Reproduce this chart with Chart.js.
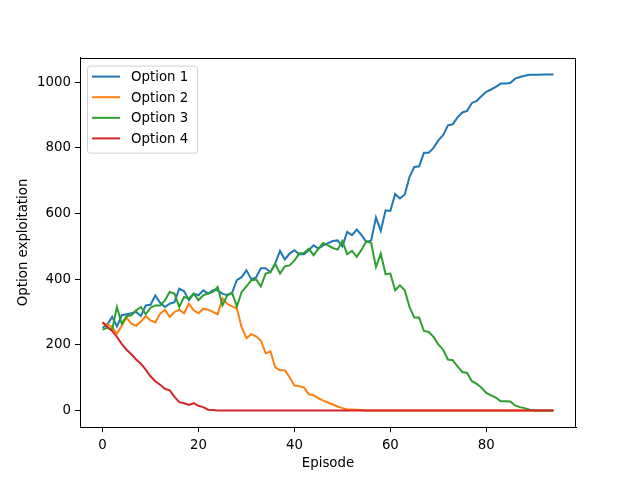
<!DOCTYPE html>
<html>
<head>
<meta charset="utf-8">
<script src="https://cdn.jsdelivr.net/npm/chart.js@4/dist/chart.umd.min.js"></script>
<style>
  html, body { margin: 0; padding: 0; background: #fff; }
  canvas { display: block; }
</style>
</head>
<body>
<canvas id="chart" width="640" height="480"></canvas>
<script>
const seriesNames = ["Option 1", "Option 2", "Option 3", "Option 4"];
const seriesColors = ["#1f77b4", "#ff7f0e", "#2ca02c", "#d62728"];

const option1 = [
  252, 262, 285, 256, 290, 293, 296, 300, 288, 320,
  322, 350, 328, 315, 325, 330, 371, 363, 336, 356,
  351, 366, 356, 366, 366, 355, 352, 358, 397, 406,
  427, 400, 405, 433, 433, 421, 448, 486, 460, 478,
  488, 476, 476, 488, 503, 493, 503, 510, 516, 518,
  500, 544, 534, 551, 534, 513, 518, 588, 547, 610,
  608, 659, 646, 658, 712, 742, 744, 785, 785, 800,
  823, 839, 869, 872, 893, 908, 913, 937, 943, 958,
  971, 978, 986, 996, 996, 998, 1011, 1016, 1020, 1023,
  1023, 1023, 1024, 1024, 1024
];
const option2 = [
  265, 262, 254, 234, 258, 283, 264, 258, 271, 287,
  274, 268, 295, 307, 285, 300, 307, 296, 325, 305,
  296, 310, 307, 300, 293, 341, 325, 317, 311, 253,
  220, 232, 226, 213, 174, 180, 131, 122, 122, 101,
  76, 74, 70, 49, 46, 37, 30, 24, 18, 12,
  7, 3, 3, 2, 1, 0, 0, 0, 0, 0,
  0, 0, 0, 0, 0, 0, 0, 0, 0, 0,
  0, 0, 0, 0, 0, 0, 0, 0, 0, 0,
  0, 0, 0, 0, 0, 0, 0, 0, 0, 0,
  0, 0, 0, 0, 0
];
const option3 = [
  246, 252, 246, 315, 264, 287, 290, 305, 315, 293,
  313, 320, 320, 335, 361, 356, 315, 346, 341, 356,
  336, 351, 356, 361, 376, 320, 351, 358, 317, 361,
  378, 396, 399, 378, 417, 421, 447, 417, 439, 442,
  457, 478, 480, 493, 473, 493, 510, 503, 495, 490,
  516, 476, 486, 468, 490, 516, 510, 437, 478, 415,
  417, 366, 381, 366, 315, 283, 283, 242, 239, 224,
  201, 185, 155, 153, 134, 117, 114, 89, 81, 69,
  53, 46, 39, 28, 28, 27, 15, 10, 7, 2,
  0, 0, 0, 0, 0
];
const option4 = [
  269, 254, 242, 224, 203, 185, 171, 155, 142, 124,
  104, 89, 78, 66, 61, 41, 25, 22, 17, 22,
  14, 10, 2, 1, 0, 0, 0, 0, 0, 0,
  0, 0, 0, 0, 0, 0, 0, 0, 0, 0,
  0, 0, 0, 0, 0, 0, 0, 0, 0, 0,
  0, 0, 0, 0, 0, 0, 0, 0, 0, 0,
  0, 0, 0, 0, 0, 0, 0, 0, 0, 0,
  0, 0, 0, 0, 0, 0, 0, 0, 0, 0,
  0, 0, 0, 0, 0, 0, 0, 0, 0, 0,
  0, 0, 0, 0, 0
];
const xTicks = [0, 20, 40, 60, 80];
const yTicks = [0, 200, 400, 600, 800, 1000];

const allSeries = [option1, option2, option3, option4];
const FONT = '"DejaVu Sans", sans-serif';

// matplotlib-style frame around the axes
const frame = {
  id: "frame",
  afterDatasetsDraw(chart) {
    const { ctx, chartArea: a } = chart;
    ctx.save();
    ctx.strokeStyle = "#000";
    ctx.lineWidth = 1;
    ctx.strokeRect(Math.round(a.left) + 0.5, Math.round(a.top) + 0.5,
      Math.round(a.right - a.left) - 1, Math.round(a.bottom - a.top) - 1);
    ctx.restore();
  }
};

// legend box in the upper left corner of the axes
const legendBox = {
  id: "legendBox",
  afterDraw(chart) {
    const { ctx, chartArea: a } = chart;
    const sets = chart.data.datasets;
    const x0 = a.left + 7, y0 = a.top + 8;
    const w = 110, rowH = 20.6;
    const h = 87;
    ctx.save();
    ctx.beginPath();
    ctx.roundRect(x0 + 0.5, y0 + 0.5, w, h, 3);
    ctx.fillStyle = "rgba(255,255,255,0.8)";
    ctx.fill();
    ctx.strokeStyle = "rgba(204,204,204,0.9)";
    ctx.lineWidth = 1;
    ctx.stroke();
    ctx.font = "13.33px " + FONT;
    ctx.textBaseline = "middle";
    ctx.fillStyle = "#000";
    sets.forEach((ds, i) => {
      const cy = y0 + 11 + i * rowH;
      ctx.beginPath();
      ctx.strokeStyle = ds.borderColor;
      ctx.lineWidth = 2;
      ctx.moveTo(x0 + 5, cy);
      ctx.lineTo(x0 + 33, cy);
      ctx.stroke();
      ctx.fillText(ds.label, x0 + 44, cy + 1);
    });
    ctx.restore();
  }
};

new Chart(document.getElementById("chart"), {
  type: "line",
  data: {
    datasets: seriesNames.map((name, i) => ({
      label: name,
      data: allSeries[i].map((v, ep) => ({ x: ep, y: v })),
      borderColor: seriesColors[i],
      backgroundColor: seriesColors[i],
      borderWidth: 2,
      pointRadius: 0,
      tension: 0,
      fill: false,
      order: seriesNames.length - i
    }))
  },
  options: {
    responsive: false,
    animation: false,
    devicePixelRatio: 1,
    layout: { padding: { left: 0, top: 57.6, right: 64, bottom: 0 } },
    plugins: {
      legend: { display: false },
      tooltip: { enabled: false }
    },
    scales: {
      x: {
        type: "linear",
        min: -4.7,
        max: 98.7,
        afterFit(scale) { scale.height = 52.8; },
        afterBuildTicks(scale) { scale.ticks = xTicks.map(v => ({ value: v })); },
        grid: { display: true, drawOnChartArea: false, drawTicks: true, tickLength: 5, color: "#000" },
        border: { display: true, color: "#000", width: 1 },
        ticks: {
          color: "#000", padding: 5, maxRotation: 0,
          font: { family: FONT, size: 13.33 },
          callback: v => String(v)
        },
        title: {
          display: true, text: "Episode", color: "#000",
          font: { family: FONT, size: 13.33 },
          padding: { top: 0, bottom: 8 }
        }
      },
      y: {
        type: "linear",
        min: -51.2,
        max: 1075.2,
        afterFit(scale) { scale.width = 80; },
        afterBuildTicks(scale) { scale.ticks = yTicks.map(v => ({ value: v })); },
        grid: { display: true, drawOnChartArea: false, drawTicks: true, tickLength: 5, color: "#000" },
        border: { display: true, color: "#000", width: 1 },
        ticks: {
          color: "#000", padding: 4,
          font: { family: FONT, size: 13.33 },
          callback: v => String(v)
        },
        title: {
          display: true, text: "Option exploitation", color: "#000",
          font: { family: FONT, size: 13.33 },
          padding: { top: 16, bottom: 0 }
        }
      }
    }
  },
  plugins: [frame, legendBox]
});
</script>
</body>
</html>
